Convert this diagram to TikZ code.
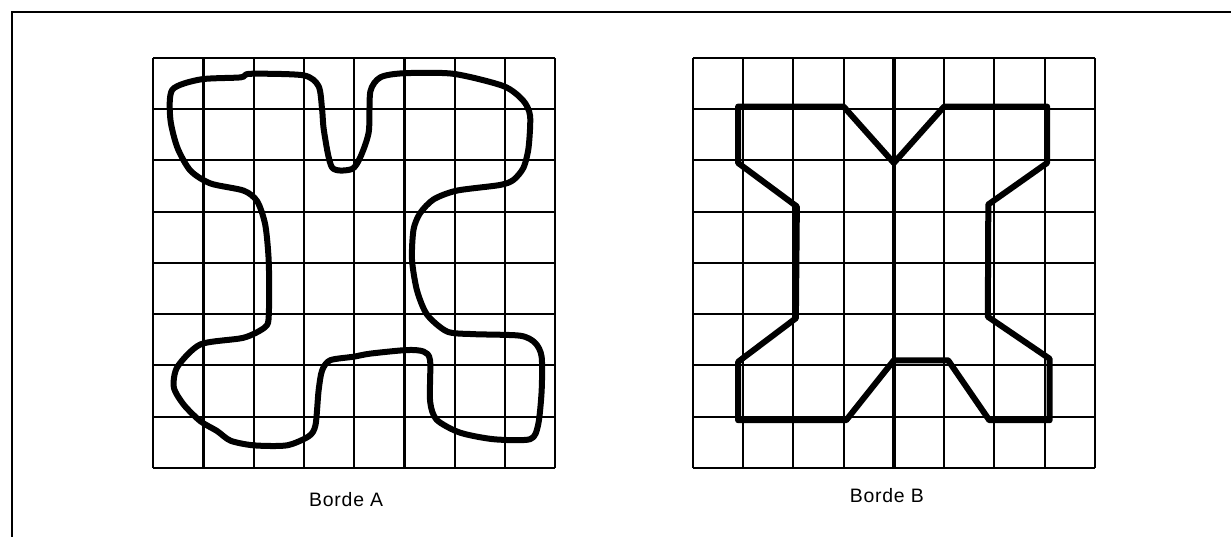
\documentclass[tikz,border=0pt]{standalone}
\usepackage{fontspec}
\setmainfont{Liberation Sans}
\usepackage{tikz}
\usetikzlibrary{positioning}

\begin{document}
\begin{tikzpicture}
[y=1.02cm,
 cellgrid/.style={line width=1.2pt},
 borde/.style={line width=3.4pt, line join=round},
 caption/.style={font=\fontsize{11}{13}\selectfont\addfontfeatures{LetterSpace=4}}];
\useasboundingbox (-3.05,-1.35) rectangle (21.45,9.13);
\draw[line width=1.2pt] (21.45,8.90) -- (-2.81,8.90) -- (-2.81,-1.35);

% Borde A
\foreach \k in {0,...,8} {
  \draw[cellgrid] (\k,0) -- (\k,8);
  \draw[cellgrid] (0,\k) -- (8,\k);
}
\draw[borde] plot[smooth cycle, tension=0.45] coordinates {
(0.38,7.38) (0.94,7.58) (1.74,7.62) (1.93,7.69) (2.99,7.66) (3.29,7.45)
(3.36,7.0) (3.4,6.56) (3.56,5.86) (3.95,5.83) (4.12,6.06) (4.29,6.56)
(4.32,7.34) (4.52,7.62) (4.98,7.70) (5.97,7.69) (6.97,7.45) (7.36,7.17)
(7.5,6.87) (7.47,6.25) (7.37,5.86) (7.17,5.62) (6.9,5.52) (6.04,5.41)
(5.58,5.24) (5.31,4.97) (5.18,4.65) (5.15,4.06) (5.25,3.46) (5.45,2.99)
(5.85,2.66) (6.37,2.61) (7.3,2.58) (7.6,2.44) (7.73,2.17) (7.73,1.5)
(7.66,0.84) (7.5,0.56) (6.77,0.56) (6.1,0.69) (5.64,0.94) (5.51,1.3)
(5.51,2.1) (5.38,2.27) (5.05,2.3) (4.32,2.23) (3.99,2.17) (3.52,2.1)
(3.36,1.9) (3.29,1.5) (3.23,0.84) (3.1,0.62) (2.66,0.44) (2.0,0.44)
(1.54,0.53) (1.27,0.72) (0.94,0.91) (0.61,1.23) (0.41,1.57) (0.48,1.97)
(0.94,2.41) (1.8,2.54) (2.23,2.75) (2.3,2.99) (2.3,4.0) (2.23,4.74)
(2.07,5.2) (1.8,5.41) (1.14,5.55) (0.74,5.8) (0.48,6.25) (0.34,6.81)};
\node[caption] (bordeA) at (3.84,-0.61) {Borde A};

% Borde B
\begin{scope}[xshift=10.74cm]
\foreach \k in {0,...,8} {
  \draw[cellgrid] (\k,0) -- (\k,8);
  \draw[cellgrid] (0,\k) -- (8,\k);
}
\draw[line width=2pt] (4,0) -- (4,8);
\draw[borde] (0.9,7.05) -- (3,7.05) -- (4,5.95) -- (5,7.05) -- (7.05,7.05)
  -- (7.05,5.95) -- (5.88,5.14) -- (5.87,2.95) -- (7.1,2.13) -- (7.1,0.93)
  -- (5.9,0.93) -- (5.08,2.1) -- (4,2.1) -- (3.05,0.93) -- (0.9,0.93)
  -- (0.9,2.07) -- (2.05,2.92) -- (2.07,5.1) -- (0.9,5.95) -- cycle;
\node[caption] (bordeB) at (3.86,-0.54) {Borde B};
\end{scope}
\end{tikzpicture}
\end{document}
